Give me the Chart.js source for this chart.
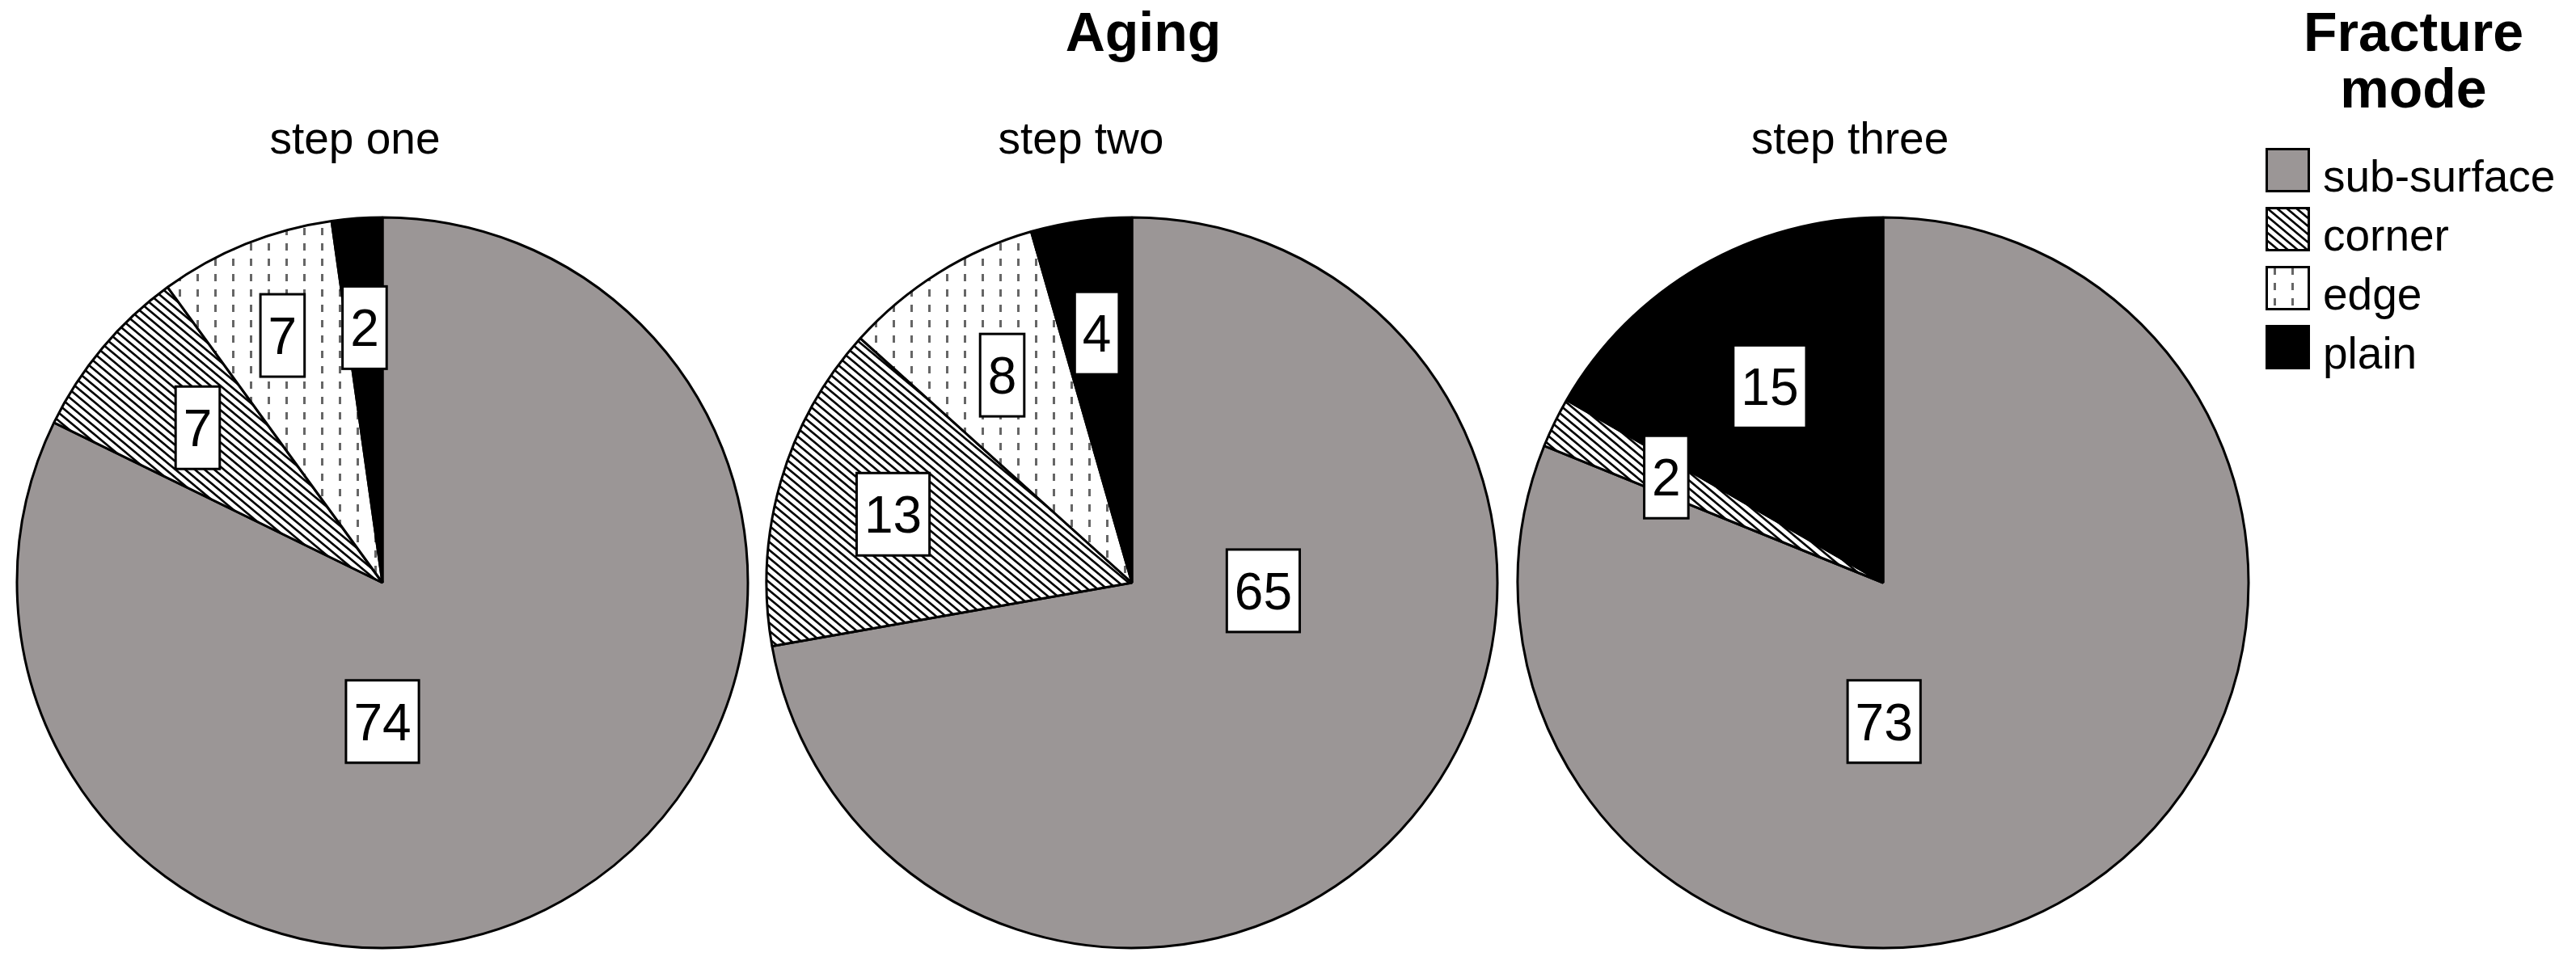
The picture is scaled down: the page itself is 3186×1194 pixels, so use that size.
<!DOCTYPE html>
<html>
<head>
<meta charset="utf-8">
<script src="https://cdn.jsdelivr.net/npm/chart.js@4/dist/chart.umd.min.js"></script>
<style>
	html, body { margin: 0; padding: 0; background: #fff; }
	body { width: 3186px; height: 1194px; position: relative; overflow: hidden; font-family: 'Liberation Sans', Arial, sans-serif; color: #000; }
	.txt { position: absolute; line-height: 1; white-space: nowrap; transform: translateX(-50%); }
	#mainTitle { font-weight: bold; font-size: 68px; left: 1414px; top: 5px; }
	.step { font-size: 55px; top: 144px; }
	canvas.pie { position: absolute; top: 261px; }
	#legendTitle { position: absolute; left: 2985px; top: 4px; transform: translateX(-50%); font-weight: bold; font-size: 68px; line-height: 70px; text-align: center; }
	.swatch { position: absolute; left: 2802px; }
	.legText { position: absolute; left: 2873px; font-size: 55px; line-height: 1; white-space: nowrap; }
</style>
</head>
<body>
<div id="mainTitle" class="txt">Aging</div>
<div id="legendTitle">Fracture<br>mode</div>

<script>
// chart data
const categories = ['sub-surface', 'corner', 'edge', 'plain'];
const stepLabels = ['step one', 'step two', 'step three'];
const stepOne = [74, 7, 7, 2];
const stepTwo = [65, 13, 8, 4];
const stepThree = [73, 2, 0, 15];

// layout / styling
const pieCenters = [473, 1400, 2329];
const stepTitleX = [439, 1337, 2288];
const pieRadius = 452;
const canvasSize = 920;
// where SPSS put the label of the big slice (deg clockwise from top), others sit on the slice middle
const bigLabelAngle = [180, 93.5, 179.6];
const labelRadius = [
	[0.38, 0.66, 0.73, 0.70],
	[0.36, 0.68, 0.67, 0.69],
	[0.38, 0.66, 0, 0.62]
];

function hatchPattern(ctx) {
	let c = document.createElement('canvas');
	c.width = 12; c.height = 10;
	let g = c.getContext('2d');
	g.fillStyle = '#fff';
	g.fillRect(0, 0, 12, 10);
	g.strokeStyle = '#000';
	g.lineWidth = 2.6;
	for (let k = -1; k <= 1; k++) {
		g.beginPath();
		g.moveTo(k * 12 - 12, -10);
		g.lineTo(k * 12 + 24, 20);
		g.stroke();
	}
	return ctx.createPattern(c, 'repeat');
}

function dashPattern(ctx) {
	let c = document.createElement('canvas');
	c.width = 22; c.height = 19;
	let g = c.getContext('2d');
	g.fillStyle = '#fff';
	g.fillRect(0, 0, 22, 19);
	g.fillStyle = '#666';
	g.fillRect(10, 2, 3, 9);
	return ctx.createPattern(c, 'repeat');
}

function sliceFills(ctx) {
	return ['#9b9696', hatchPattern(ctx), dashPattern(ctx), '#000'];
}

const valueBoxes = {
	id: 'valueBoxes',
	afterDatasetsDraw(chart, args, opts) {
		const ctx = chart.ctx;
		const meta = chart.getDatasetMeta(0);
		const values = chart.data.datasets[0].data;
		ctx.save();
		ctx.font = '64px "Liberation Sans", Arial, sans-serif';
		meta.data.forEach((arc, i) => {
			if (!values[i]) return;
			let a = (arc.startAngle + arc.endAngle) / 2;
			if (i === 0) a = opts.bigAngle * Math.PI / 180 - Math.PI / 2;
			let d = opts.radii[i] * arc.outerRadius;
			let x = arc.x + Math.cos(a) * d;
			let y = arc.y + Math.sin(a) * d;
			let txt = String(values[i]);
			let w = ctx.measureText(txt).width + 19;
			let h = 102;
			ctx.fillStyle = '#fff';
			ctx.fillRect(x - w / 2, y - h / 2, w, h);
			ctx.strokeStyle = '#000';
			ctx.lineWidth = 3;
			ctx.strokeRect(x - w / 2, y - h / 2, w, h);
			ctx.fillStyle = '#000';
			ctx.textAlign = 'center';
			ctx.textBaseline = 'alphabetic';
			ctx.fillText(txt, x, y + 23);
		});
		ctx.restore();
	}
};

const allSteps = [stepOne, stepTwo, stepThree];

allSteps.forEach((values, n) => {
	let t = document.createElement('div');
	t.className = 'txt step';
	t.style.left = stepTitleX[n] + 'px';
	t.textContent = stepLabels[n];
	document.body.appendChild(t);

	let cv = document.createElement('canvas');
	cv.className = 'pie';
	cv.width = canvasSize;
	cv.height = canvasSize;
	cv.style.left = (pieCenters[n] - canvasSize / 2) + 'px';
	document.body.appendChild(cv);
	let ctx = cv.getContext('2d');

	new Chart(cv, {
		type: 'pie',
		data: {
			labels: categories,
			datasets: [{
				data: values,
				backgroundColor: sliceFills(ctx),
				borderColor: '#000',
				borderWidth: 3,
				radius: pieRadius,
				hoverOffset: 0
			}]
		},
		options: {
			responsive: false,
			animation: false,
			events: [],
			layout: { padding: 0 },
			plugins: {
				legend: { display: false },
				tooltip: { enabled: false },
				title: { display: false },
				valueBoxes: { bigAngle: bigLabelAngle[n], radii: labelRadius[n] }
			}
		},
		plugins: [valueBoxes]
	});
});

// legend
const legendTops = [183, 256, 329, 402];
categories.forEach((name, i) => {
	let sw = document.createElement('canvas');
	sw.className = 'swatch';
	sw.width = 55; sw.height = 55;
	sw.style.top = legendTops[i] + 'px';
	document.body.appendChild(sw);
	let g = sw.getContext('2d');
	g.fillStyle = sliceFills(g)[i];
	g.fillRect(0, 0, 55, 55);
	g.strokeStyle = '#000';
	g.lineWidth = 3;
	g.strokeRect(1.5, 1.5, 52, 52);

	let lt = document.createElement('div');
	lt.className = 'legText';
	lt.style.top = (legendTops[i] + 8) + 'px';
	lt.textContent = name;
	document.body.appendChild(lt);
});
</script>
</body>
</html>
